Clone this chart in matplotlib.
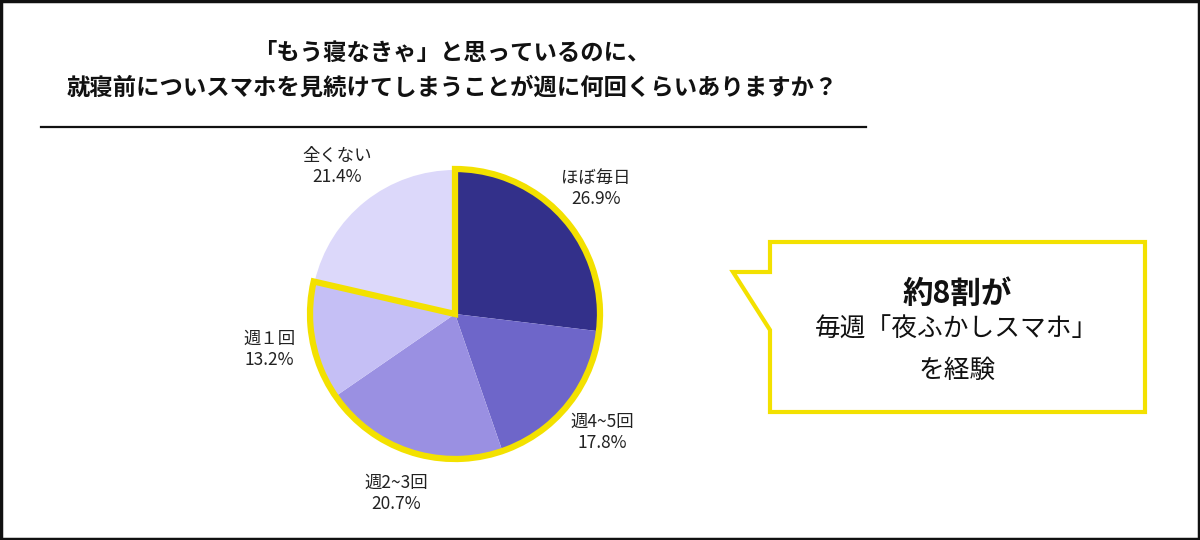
import matplotlib
matplotlib.use("Agg")
import matplotlib.pyplot as plt
from matplotlib.patches import Wedge, Polygon, Rectangle

plt.rcParams['font.family'] = ['Noto Sans CJK JP', 'DejaVu Sans']

# data
categories = ["ほぼ毎日", "週4~5回", "週2~3回", "週１回", "全くない"]
values = [26.9, 17.8, 20.7, 13.2, 21.4]
colors = ["#33308a", "#6e66c9", "#9a90e2", "#c5bff5", "#dcd8fa"]
highlight_count = 4  # slices wrapped by the yellow outline

title_lines = ["「もう寝なきゃ」と思っているのに、",
               "就寝前についスマホを見続けてしまうことが週に何回くらいありますか？"]
bubble_lines = ["約8割が", "毎週「夜ふかしスマホ」", "を経験"]

W, H = 1200, 540
YELLOW = "#f3e100"


def Y(y):
    return H - y


fig = plt.figure(figsize=(12, 5.4), dpi=100)
ax = fig.add_axes([0, 0, 1, 1])

cx, cy, r = 455, Y(314), 144
labels = [f"{c}\n{v:.1f}%" for c, v in zip(categories, values)]
ax.pie(values, colors=colors, startangle=90, counterclock=False,
       center=(cx, cy), radius=r, labels=labels, labeldistance=1.31,
       wedgeprops=dict(linewidth=0),
       textprops=dict(ha="center", va="center", fontsize=12.5,
                      color="#222222", linespacing=1.2))

# yellow outline around the "at least weekly" slices
total = sum(values)
span = sum(values[:highlight_count]) / total * 360
ax.add_patch(Wedge((cx, cy), r + 1, 90 - span, 90, fill=False,
                   edgecolor=YELLOW, linewidth=4.5, joinstyle="miter"))

# title
ax.text(452, Y(53), title_lines[0], ha="center", va="center",
        fontsize=16.8, fontweight="bold", color="#111111")
ax.text(452, Y(88), title_lines[1], ha="center", va="center",
        fontsize=16.8, fontweight="bold", color="#111111")
ax.plot([41, 866], [Y(127), Y(127)], color="#111111", linewidth=1.6)

# speech bubble
bubble = [(770, Y(242)), (1145, Y(242)), (1145, Y(412)), (770, Y(412)),
          (770, Y(330)), (733, Y(272)), (770, Y(272))]
ax.add_patch(Polygon(bubble, closed=True, facecolor="white",
                     edgecolor=YELLOW, linewidth=3, joinstyle="miter"))
ax.text(957, Y(294), bubble_lines[0], ha="center", va="center",
        fontsize=22, fontweight="bold", color="#111111")
ax.text(957, Y(330), bubble_lines[1], ha="center", va="center",
        fontsize=18.5, color="#111111")
ax.text(957, Y(371), bubble_lines[2], ha="center", va="center",
        fontsize=18.5, color="#111111")

# outer frame
ax.add_patch(Rectangle((1, 1), W - 2, H - 2, fill=False,
                       edgecolor="#111111", linewidth=2.5))

ax.set_xlim(0, W)
ax.set_ylim(0, H)
ax.set_aspect("equal")
ax.axis("off")

fig.savefig("out.png", dpi=100)
